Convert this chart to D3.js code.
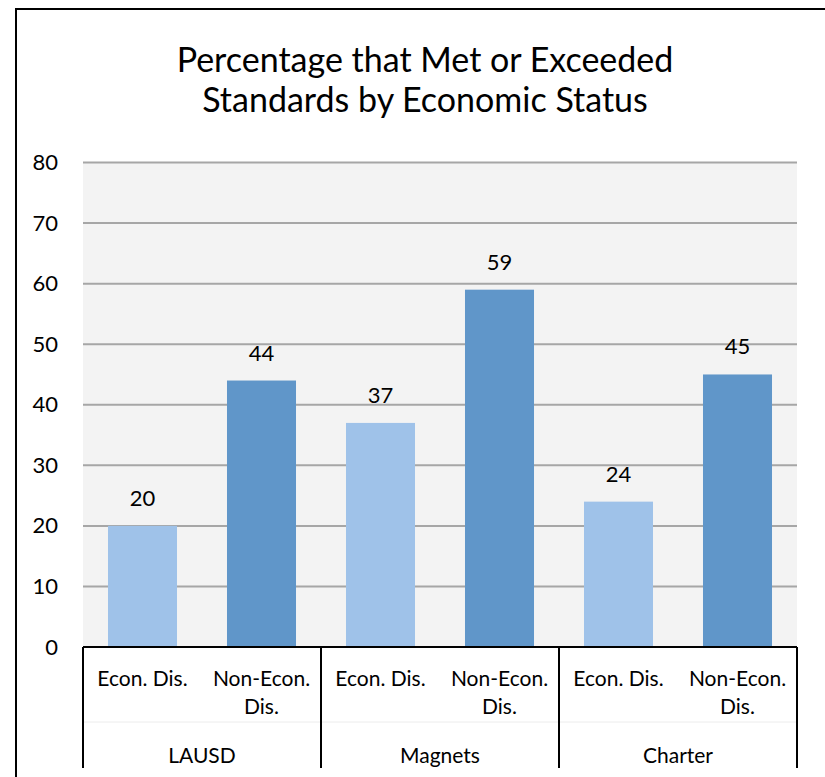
<!DOCTYPE html>
<html><head><meta charset="utf-8">
<script src="https://cdn.jsdelivr.net/npm/d3@7"></script>
<style>html,body{margin:0;padding:0;background:#fff;}svg{display:block;}</style>
</head><body>
<script>
const groups = ["LAUSD", "Magnets", "Charter"];
const subcategories = ["Econ. Dis.", "Non-Econ. Dis."];
const subLabelLines = [["Econ. Dis."], ["Non-Econ.", "Dis."]];
const values = [20, 44, 37, 59, 24, 45];
const yTicks = [0, 10, 20, 30, 40, 50, 60, 70, 80];
const titleLines = ["Percentage that Met or Exceeded", "Standards by Economic Status"];
const barColors = ["#9fc2e9", "#6096c9"];

(function(){
const W = 825, H = 777;
const font = "Lato, 'Open Sans', sans-serif";
const svg = d3.select("body").append("svg").attr("width", W).attr("height", H);

// frame
svg.append("path").attr("d", `M16,${H} L16,9 L${W},9`).attr("fill","none").attr("stroke","#000").attr("stroke-width",2);

const pl = 83, pr = 797, pt = 162.5, pb = 647;
svg.append("rect").attr("x", pl).attr("y", pt).attr("width", pr-pl).attr("height", pb-pt).attr("fill", "#f3f3f3");

const y = d3.scaleLinear().domain([0, 80]).range([pb, pt]);
const cats = [];
groups.forEach(g => subcategories.forEach(s => cats.push(g + "|" + s)));
const x = d3.scaleBand().domain(cats).range([pl, pr]).paddingInner(0.42).paddingOuter(0.21);
const xg = d3.scaleBand().domain(groups).range([pl, pr]);

// gridlines
svg.append("g").selectAll("line").data(yTicks.filter(t => t > 0)).join("line")
  .attr("x1", pl).attr("x2", pr).attr("y1", d => y(d)).attr("y2", d => y(d))
  .attr("stroke", "#a6a6a6").attr("stroke-width", 2);

// y axis labels
const yAxis = d3.axisLeft(y).tickValues(yTicks).tickSize(0).tickPadding(25);
const ya = svg.append("g").attr("transform", `translate(${pl},0)`).call(yAxis);
ya.select(".domain").remove();
ya.selectAll("text").attr("font-family", font).attr("font-size", 22).attr("fill", "#000");

// bars
svg.append("g").selectAll("rect").data(values).join("rect")
  .attr("x", (d,i) => x(cats[i])).attr("width", x.bandwidth())
  .attr("y", d => y(d)).attr("height", d => y(0) - y(d))
  .attr("fill", (d,i) => barColors[i % 2]);

// value labels
svg.append("g").selectAll("text").data(values).join("text")
  .attr("x", (d,i) => x(cats[i]) + x.bandwidth()/2).attr("y", d => y(d) - 20)
  .attr("text-anchor", "middle").attr("font-family", font).attr("font-size", 22).attr("fill", "#000")
  .text(d => d);

// axis baseline
svg.append("line").attr("x1", pl).attr("x2", pr).attr("y1", pb).attr("y2", pb).attr("stroke", "#000").attr("stroke-width", 2);

// faint separator between tiers
svg.append("line").attr("x1", pl).attr("x2", pr).attr("y1", 722).attr("y2", 722).attr("stroke", "#ececec").attr("stroke-width", 1);

// group separators
const seps = groups.map(g => xg(g)).concat([pr]);
svg.append("g").selectAll("line").data(seps).join("line")
  .attr("x1", d => d).attr("x2", d => d).attr("y1", pb).attr("y2", 768)
  .attr("stroke", "#000").attr("stroke-width", 2);

// subcategory labels
const sub = svg.append("g");
cats.forEach((c, i) => {
  const lines = subLabelLines[i % 2];
  const t = sub.append("text").attr("text-anchor", "middle").attr("font-family", font).attr("font-size", 21).attr("fill", "#000");
  lines.forEach((ln, j) => {
    t.append("tspan").attr("x", x(c) + x.bandwidth()/2).attr("y", 686 + j*28).text(ln);
  });
});

// group labels
svg.append("g").selectAll("text").data(groups).join("text")
  .attr("x", d => xg(d) + xg.bandwidth()/2).attr("y", 763)
  .attr("text-anchor", "middle").attr("font-family", font).attr("font-size", 21).attr("fill", "#000")
  .text(d => d);

// title
const tt = svg.append("text").attr("text-anchor", "middle").attr("font-family", font).attr("font-size", 34).attr("fill", "#000");
titleLines.forEach((ln, j) => tt.append("tspan").attr("x", 425).attr("y", 72 + j*40).text(ln));
})();
</script>
</body></html>
